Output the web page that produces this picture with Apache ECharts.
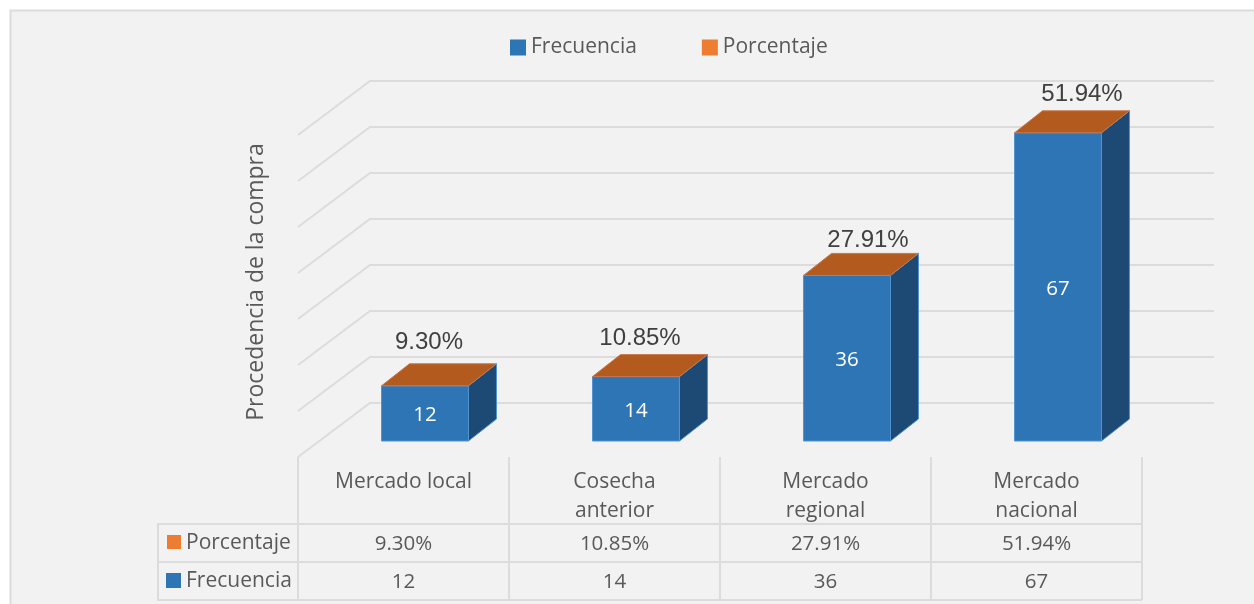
<!DOCTYPE html>
<html><head><meta charset="utf-8">
<style>html,body{margin:0;padding:0;background:#fff}#c{width:1254px;height:604px}</style>
<script src="https://cdn.jsdelivr.net/npm/echarts@6/dist/echarts.min.js"></script>
</head><body><div id="c"></div>
<script>
const categories = ['Mercado local', 'Cosecha\nanterior', 'Mercado\nregional', 'Mercado\nnacional'];
const frecuencia = [12, 14, 36, 67];
const porcentaje = [9.30, 10.85, 27.91, 51.94];
const wallTicks = [0, 10, 20, 30, 40, 50, 60, 70];
const seriesNames = ['Frecuencia', 'Porcentaje'];
const axisTitle = 'Procedencia de la compra';

const FONT = '"Open Sans", sans-serif';
const TXT = '#595959', GRIDC = '#dcdcdc';
const BLUE = '#2e75b6', SIDE = '#1c4a74', EDGE = '#4f93d1', ORANGE = '#ed7d31', TOP = '#b35a1f';
const DEPTH_X = 72, DEPTH_Y = 54;      // front plane -> back wall
const BAR_X = 22, BAR_Y = 16;          // bar front face inset from front plane
const BAR_DX = 28, BAR_DY = 22;        // bar depth
const BAR_RATIO = 0.412;
const ROW1 = 544, ROW2 = 582;

function face(points, fill, stroke) {
  return { type: 'polygon', shape: { points }, style: { fill, stroke, lineWidth: 1 } };
}
function cell(text, x, y) {
  return { type: 'text', style: { text, x, y, fill: TXT, font: '20.5px ' + FONT, align: 'center', verticalAlign: 'middle' } };
}
function barBox(api) {
  const base = api.coord([api.value(0), 0]);
  const top = api.coord([api.value(0), api.value(1)]);
  const w = api.size([1, 0])[0] * BAR_RATIO;
  const xl = base[0] + BAR_X - w / 2 - 0.5;
  return { cx: base[0], xl, xr: xl + w, yb: base[1] - BAR_Y, yt: top[1] - BAR_Y, w };
}

const option = {
  animation: false,
  backgroundColor: 'transparent',
  textStyle: { fontFamily: FONT },
  graphic: [
    { type: 'rect', z: -10, silent: true, shape: { x: 10.5, y: 10.5, width: 1260, height: 610 },
      style: { fill: '#f2f2f2', stroke: GRIDC, lineWidth: 2 } },
    { type: 'polyline', z: 0, silent: true, shape: { points: [[1142, 524], [158, 524], [158, 600], [1142, 600]] },
      style: { fill: null, stroke: GRIDC, lineWidth: 2 } },
    { type: 'line', z: 0, silent: true, shape: { x1: 158, y1: 562, x2: 1142, y2: 562 }, style: { stroke: GRIDC, lineWidth: 2 } },
    { type: 'rect', z: 0, silent: true, shape: { x: 167, y: 535, width: 14, height: 14 }, style: { fill: ORANGE } },
    { type: 'rect', z: 0, silent: true, shape: { x: 166, y: 573, width: 15, height: 15 }, style: { fill: BLUE } },
    { type: 'text', z: 0, silent: true, style: { text: seriesNames[1], x: 186, y: ROW1 - 1, fill: TXT, font: '21px ' + FONT, verticalAlign: 'middle' } },
    { type: 'text', z: 0, silent: true, style: { text: seriesNames[0], x: 186, y: ROW2 - 1, fill: TXT, font: '21px ' + FONT, verticalAlign: 'middle' } }
  ],
  legend: {
    data: seriesNames, left: 505, top: 32, itemWidth: 16, itemHeight: 16, itemGap: 65, icon: 'rect',
    textStyle: { color: TXT, fontSize: 21, fontFamily: FONT }
  },
  grid: { left: 298, right: 112, top: 135, bottom: 147, containLabel: false },
  xAxis: {
    type: 'category', data: categories,
    axisLine: { show: false },
    axisTick: { show: true, length: 143, lineStyle: { color: GRIDC, width: 2 } },
    axisLabel: { color: TXT, fontSize: 21, fontFamily: FONT, lineHeight: 29, margin: 11, interval: 0 }
  },
  yAxis: {
    type: 'value', min: 0, max: 70, interval: 10,
    axisLine: { show: false }, axisTick: { show: false }, axisLabel: { show: false }, splitLine: { show: false },
    name: axisTitle, nameLocation: 'middle', nameGap: 30,
    nameTextStyle: { color: TXT, fontSize: 23, fontFamily: FONT, padding: [0, 0, 0, 28] }
  },
  series: [
    {
      name: 'walls', type: 'custom', z: 1, silent: true, clip: false,
      data: wallTicks.map(v => [0, v]),
      renderItem(params, api) {
        const y = api.coord([0, api.value(1)])[1];
        const x0 = params.coordSys.x, x1 = x0 + params.coordSys.width;
        return { type: 'polyline',
          shape: { points: [[x0, y], [x0 + DEPTH_X, y - DEPTH_Y], [x1 + DEPTH_X, y - DEPTH_Y]] },
          style: { fill: null, stroke: GRIDC, lineWidth: 2 } };
      }
    },
    {
      name: seriesNames[0], type: 'custom', z: 3, clip: false,
      itemStyle: { color: BLUE },
      data: frecuencia.map((v, i) => [i, v]),
      encode: { x: 0, y: 1 },
      renderItem(params, api) {
        const b = barBox(api);
        return { type: 'group', children: [
          face([[b.xr, b.yb], [b.xr + BAR_DX, b.yb - BAR_DY], [b.xr + BAR_DX, b.yt - BAR_DY], [b.xr, b.yt]], SIDE, EDGE),
          face([[b.xl, b.yb], [b.xr, b.yb], [b.xr, b.yt], [b.xl, b.yt]], BLUE, EDGE),
          { type: 'text', style: { text: String(api.value(1)), x: (b.xl + b.xr) / 2, y: (b.yb + b.yt) / 2 + 2,
            fill: '#fff', font: '20.5px ' + FONT, align: 'center', verticalAlign: 'middle' } },
          cell(String(api.value(1)), b.cx, ROW2)
        ] };
      }
    },
    {
      name: seriesNames[1], type: 'custom', z: 4, clip: false,
      itemStyle: { color: ORANGE },
      data: frecuencia.map((v, i) => [i, v, porcentaje[i]]),
      encode: { x: 0, y: 1 },
      renderItem(params, api) {
        const b = barBox(api);
        const txt = api.value(2).toFixed(2) + '%';
        const nudgeX = [4, 4, 21, 24][params.dataIndex], nudgeY = [43, 38, 35, 38][params.dataIndex];
        return { type: 'group', children: [
          face([[b.xl, b.yt], [b.xr, b.yt], [b.xr + BAR_DX, b.yt - BAR_DY], [b.xl + BAR_DX, b.yt - BAR_DY]], TOP, '#c8764a'),
          { type: 'text', style: { text: txt, x: (b.xl + b.xr) / 2 + nudgeX, y: b.yt - nudgeY,
            fill: '#404040', font: '24px "Liberation Sans", Arial, sans-serif', align: 'center', verticalAlign: 'middle' } },
          cell(txt, b.cx, ROW1)
        ] };
      }
    }
  ]
};
const chart = echarts.init(document.getElementById('c'), null, { renderer: 'canvas' });
chart.setOption(option);
</script></body></html>
